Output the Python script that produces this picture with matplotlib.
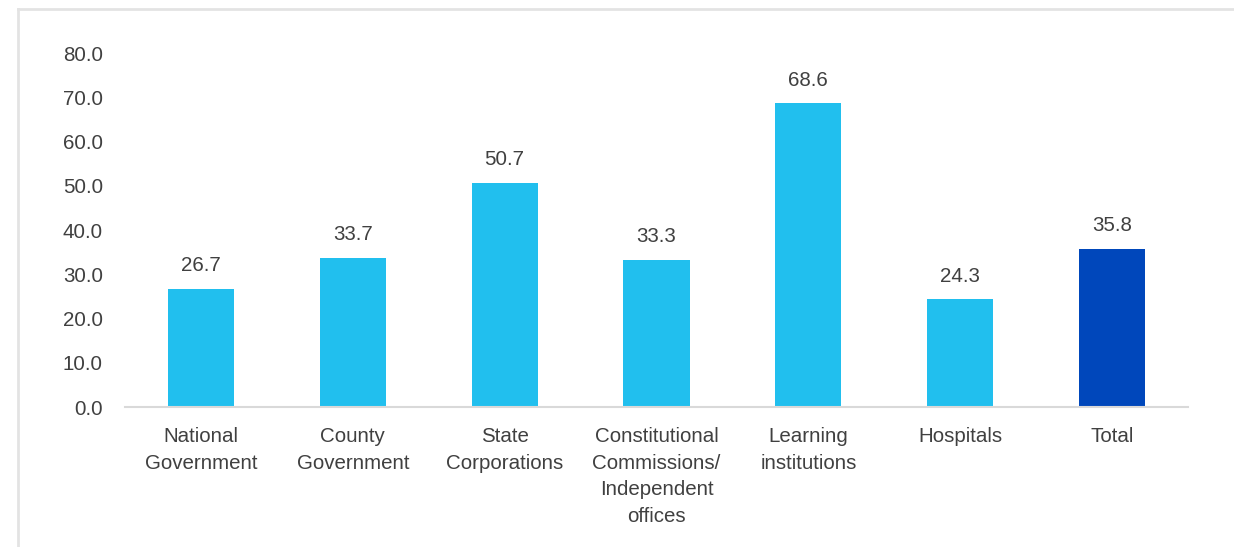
import matplotlib.pyplot as plt
from matplotlib.lines import Line2D

categories = ["National\nGovernment", "County\nGovernment", "State\nCorporations",
              "Constitutional\nCommissions/\nIndependent\noffices",
              "Learning\ninstitutions", "Hospitals", "Total"]
values = [26.7, 33.7, 50.7, 33.3, 68.6, 24.3, 35.8]
yticks = [0, 10, 20, 30, 40, 50, 60, 70, 80]

light_blue = "#21BFEE"
dark_blue = "#0047BB"
text_color = "#404040"
grey = "#D9D9D9"

plt.rcParams["font.family"] = ["Liberation Sans", "DejaVu Sans"]

fig = plt.figure(figsize=(12.34, 5.47), dpi=100)
ax = fig.add_axes([0.1013, 0.2559, 0.8614, 0.6472])

colors = [light_blue] * (len(values) - 1) + [dark_blue]
x = range(len(values))
bars = ax.bar(x, values, width=0.435, color=colors)

for rect, v in zip(bars, values):
    ax.annotate(f"{v:.1f}", (rect.get_x() + rect.get_width() / 2, v),
                xytext=(0, 10), textcoords="offset points",
                ha="center", va="bottom", fontsize=14.8, color=text_color)

ax.set_xlim(-0.5, len(values) - 0.5)
ax.set_ylim(0, 80)
ax.set_yticks(yticks)
ax.set_yticklabels([f"{t:.1f}" for t in yticks])
ax.set_xticks(list(x))
ax.set_xticklabels(categories, linespacing=1.5, va="top")
ax.tick_params(axis="both", length=0, labelsize=14.8, labelcolor=text_color)
ax.tick_params(axis="y", pad=16)
ax.tick_params(axis="x", pad=14.5)

for side in ["top", "right", "left"]:
    ax.spines[side].set_visible(False)
ax.spines["bottom"].set_color(grey)
ax.spines["bottom"].set_linewidth(1.5)

# light frame around the chart area
fig.add_artist(Line2D([18 / 1234, 1.0], [1 - 9 / 547, 1 - 9 / 547],
                      transform=fig.transFigure, color="#E3E3E3", lw=2))
fig.add_artist(Line2D([18 / 1234, 18 / 1234], [0.0, 1 - 9 / 547],
                      transform=fig.transFigure, color="#E3E3E3", lw=2))

fig.savefig("out.png", dpi=100)
